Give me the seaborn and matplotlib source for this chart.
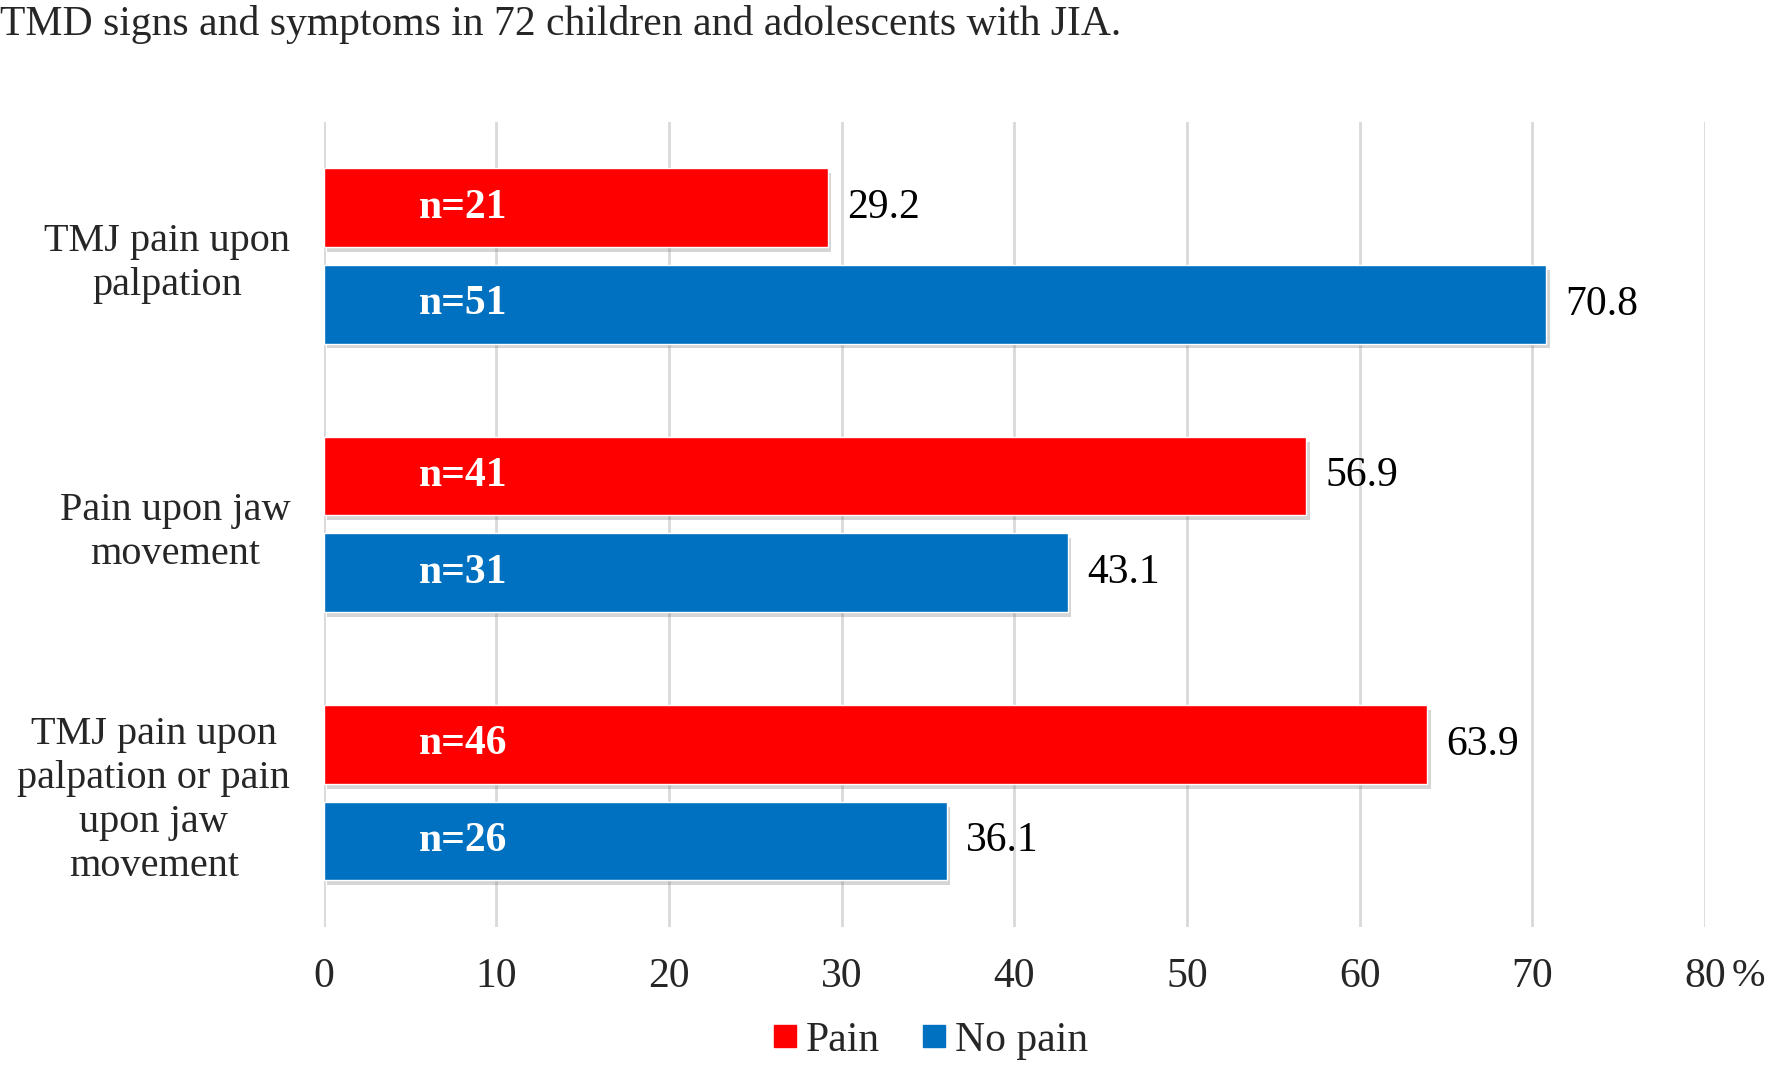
import matplotlib
matplotlib.use("Agg")
import matplotlib.pyplot as plt
import matplotlib.patheffects as pe
from matplotlib.lines import Line2D
import seaborn as sns
import pandas as pd

categories = ["TMJ pain upon\npalpation", "Pain upon jaw\nmovement",
              "TMJ pain upon\npalpation or pain\nupon jaw\nmovement"]
groups = ["Pain", "No pain"]
pain_pct = [29.2, 56.9, 63.9]
nopain_pct = [70.8, 43.1, 36.1]
pain_n = [21, 41, 46]
nopain_n = [51, 31, 26]
xticks = [0, 10, 20, 30, 40, 50, 60, 70, 80]
colors = {"Pain": "#FF0000", "No pain": "#0070C0"}

df = pd.DataFrame({
    "Category": categories * 2,
    "Group": ["Pain"] * 3 + ["No pain"] * 3,
    "Percent": pain_pct + nopain_pct,
    "N": pain_n + nopain_n,
})

sns.set_theme(style="white")
plt.rcParams['font.family'] = ['Liberation Serif', 'DejaVu Serif']
FS = 30

fig = plt.figure(figsize=(17.68, 10.68), dpi=100)
ax = fig.add_axes([0.183, 0.132, 0.7814, 0.754])

sns.barplot(data=df, y="Category", x="Percent", hue="Group", order=categories,
            hue_order=groups, palette=colors, orient="h", width=0.72, gap=0.186,
            ax=ax, legend=False, saturation=1, errorbar=None)

ax.set_xlim(0, 80)
ax.set_ylim(2.5, -0.5)
ax.set_xticks(xticks)
ax.set_xticklabels([str(t) for t in xticks], fontsize=FS)
ax.tick_params(axis="x", length=0, pad=22)
ax.tick_params(axis="y", length=0, pad=24)
for lab in ax.get_yticklabels():
    lab.set_fontsize(29)
    lab.set_multialignment("center")
    lab.set_linespacing(1.25)
ax.set_xlabel("")
ax.set_ylabel("")
for s in ax.spines.values():
    s.set_visible(False)
ax.grid(axis="x", color="#d9d9d9", linewidth=2)
ax.set_axisbelow(True)

shadow = [pe.SimplePatchShadow(offset=(2.5, -3.5), shadow_rgbFace="#777777", alpha=0.3), pe.Normal()]
for container, grp in zip(ax.containers, groups):
    ns = pain_n if grp == "Pain" else nopain_n
    vals = pain_pct if grp == "Pain" else nopain_pct
    for bar, n in zip(container.patches, ns):
        bar.set_path_effects(shadow)
        yc = bar.get_y() + bar.get_height() / 2
        ax.text(8.1, yc, f"n={n}", color="white", fontweight="bold",
                fontsize=FS, ha="center", va="center")
    ax.bar_label(container, labels=[f"{v:.1f}" for v in vals], padding=14,
                 fontsize=FS, color="black")

ax.annotate("%", xy=(80, 0), xycoords=("data", "axes fraction"),
            xytext=(19, -22), textcoords="offset points",
            ha="left", va="top", fontsize=29)

fig.text(0.0, 0.995, "TMD signs and symptoms in 72 children and adolescents with JIA.",
         ha="left", va="top", fontsize=FS)

handles = [Line2D([], [], marker="s", linestyle="none", markersize=16,
                  markerfacecolor=colors[g], markeredgecolor=colors[g], label=g)
           for g in groups]
fig.legend(handles=handles, loc="center", bbox_to_anchor=(0.526, 0.0255), ncol=2,
           frameon=False, fontsize=FS, handlelength=0.6, handletextpad=0.2,
           columnspacing=1.0)

fig.savefig("out.png", dpi=100)
